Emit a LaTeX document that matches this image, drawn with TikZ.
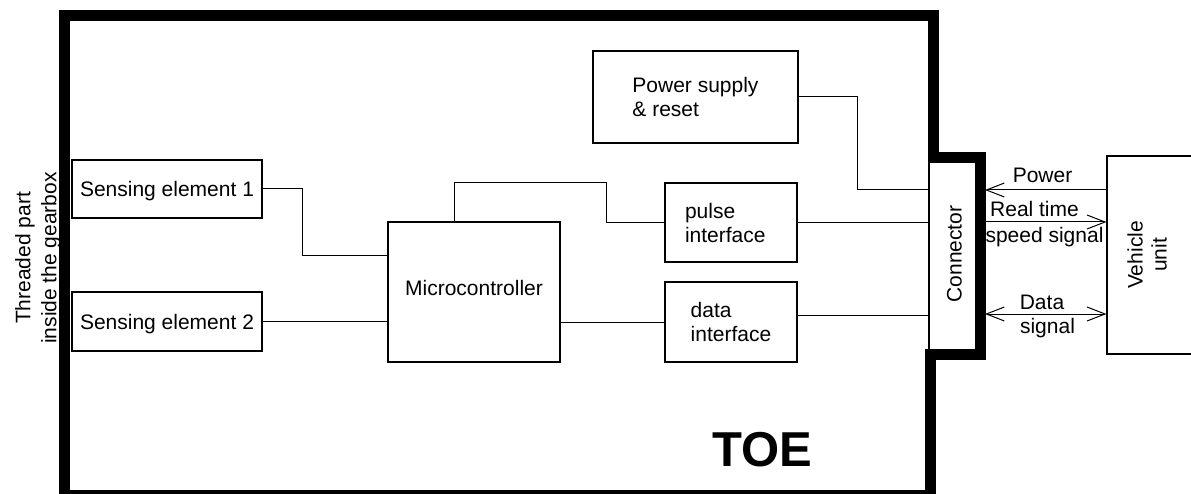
\documentclass[tikz,border=0pt]{standalone}
\usepackage{fontspec}
\setmainfont{Liberation Sans}
\usetikzlibrary{arrows.meta}
\begin{document}
\begin{tikzpicture}[x=1pt,y=-1pt,
  box/.style={draw, line width=1.2pt, inner sep=0pt, font=\fontsize{21}{24}\selectfont},
  txt/.style={inner sep=0pt, font=\fontsize{21}{24}\selectfont},
  wire/.style={line width=1pt},
  frame/.style={line width=11pt, line join=miter},
  tip/.style={-{Straight Barb[length=18pt,width=14pt]}},
  tips/.style={{Straight Barb[length=18pt,width=14pt]}-{Straight Barb[length=18pt,width=14pt]}}
]
\useasboundingbox (0,0) rectangle (1191,494);

% boxes
\node[box, minimum width=190pt, minimum height=58pt, text height=15pt, text depth=0pt] (se1) at (167,189) {Sensing element 1};
\node[box, minimum width=190pt, minimum height=59pt, text height=15pt, text depth=0pt] (se2) at (167,321.5) {Sensing element 2};
\node[box, minimum width=172pt, minimum height=140pt, text height=15pt, text depth=7pt] (mc) at (474,292) {Microcontroller};
\node[box, minimum width=132pt, minimum height=79pt, text width=92pt, align=left] (pi) at (731,222.5) {pulse\\interface};
\node[box, minimum width=132pt, minimum height=80pt, align=left] (di) at (731,322) {data\\interface};
\node[box, minimum width=205pt, minimum height=92pt, align=left] (ps) at (695.5,97) {Power supply\\\& reset};
\node[box, minimum width=51pt, minimum height=196pt] (conn) at (954.5,256) {};
\node[txt, rotate=90] (connt) at (954.5,254) {Connector};
\node[box, minimum width=100pt, minimum height=198pt] (vu) at (1157,255) {};
\node[txt, rotate=90, align=center] (vut) at (1147,255) {Vehicle\\unit};
\node[txt, rotate=90, align=center, font=\fontsize{21}{26}\selectfont] (thr) at (38,258) {Threaded part\\inside the gearbox};

% internal wires
\draw[wire] (se1.east) -- ++(40,0) |- (mc.west |- 0,256);
\draw[wire] (se2.east) -- (mc.west |- se2.east);
\draw[wire] (mc.north -| 454,0) |- (606,183) |- (pi.west);
\draw[wire] (mc.east |- di.west) -- (di.west);
\draw[wire] (pi.east) -- (conn.west |- pi.east);
\draw[wire] (di.east |- 0,315) -- (conn.west |- 0,315);
\draw[wire] (ps.east) -- (857,97) |- (conn.west |- 0,190);

% frame
\draw[frame] (64,15.5) -- (933,15.5) -- (933,158) -- (980,158) -- (980,354) -- (930,354) -- (930,495) -- (64,495) -- cycle;

% external signals
\coordinate (cr) at (985,256);
\draw[wire, tip] (vu.west |- 0,190) -- (cr |- 0,190);
\draw[wire, tip] (cr |- 0,222) -- (vu.west |- 0,222);
\draw[wire, tips] (cr |- 0,314) -- (vu.west |- 0,314);

\node[txt, anchor=base] (lpow) at (1042.5,183) {Power};
\node[txt, anchor=base] (lrt) at (1034.5,217) {Real time};
\node[txt, anchor=base] (lss) at (1044.5,243) {speed signal};
\node[txt, anchor=base] (ld) at (1042,309) {Data};
\node[txt, anchor=base] (lsig) at (1047.5,334) {signal};

\node[inner sep=0pt, font=\fontsize{49}{55}\selectfont\bfseries] (toe) at (762.5,450) {TOE};
\end{tikzpicture}
\end{document}
